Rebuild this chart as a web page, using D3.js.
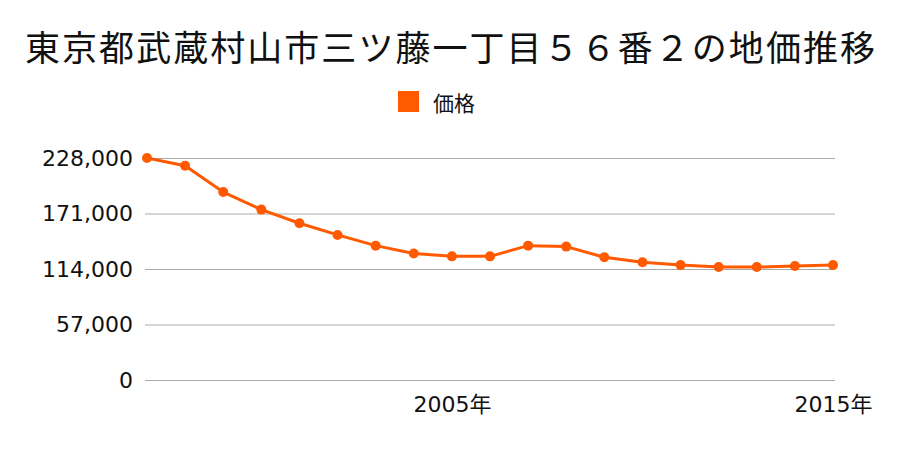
<!DOCTYPE html>
<html><head><meta charset="utf-8">
<script src="https://cdn.jsdelivr.net/npm/d3@7"></script>
<style>body{margin:0;background:#fff}svg{display:block}text{font-family:"DejaVu Sans","Noto Sans CJK JP",sans-serif}</style>
</head><body>
<svg id="c" width="900" height="450"></svg>
<script>
const title = "東京都武蔵村山市三ツ藤一丁目５６番２の地価推移";
const seriesName = "価格";
const years = [1997,1998,1999,2000,2001,2002,2003,2004,2005,2006,2007,2008,2009,2010,2011,2012,2013,2014,2015];
const prices = [228000,220000,193000,175000,161000,149000,138000,130000,127000,127000,138000,137000,126000,121000,118000,116000,116000,117000,118000];
const yTicks = [0,57000,114000,171000,228000];
const xTicks = [2005,2015];
const color = "#ff5a00";

const svg = d3.select("#c");
const x = d3.scaleLinear().domain([1997,2015]).range([147,833]);
const y = d3.scaleLinear().domain([0,228000]).range([380,158]);

svg.append("text").attr("x",450).attr("y",45).attr("text-anchor","middle")
  .attr("dominant-baseline","central").attr("font-size",35)
  .style("font-family",'"Noto Sans CJK JP",sans-serif')
  .attr("textLength",850).attr("lengthAdjust","spacing")
  .attr("fill","#111").text(title);

svg.append("rect").attr("x",398).attr("y",91).attr("width",21).attr("height",21).attr("fill",color);
svg.append("text").attr("x",433).attr("y",102).attr("dominant-baseline","central")
  .style("font-family",'"Noto Sans CJK JP",sans-serif')
  .attr("font-size",21).attr("fill","#111").text(seriesName);

const yAxis = d3.axisLeft(y).tickValues(yTicks).tickSize(-690).tickPadding(12)
  .tickFormat(d3.format(","));
const gy = svg.append("g").attr("transform","translate(145,0)").call(yAxis);
gy.select(".domain").remove();
gy.selectAll(".tick line").attr("stroke","#aaa").attr("stroke-width",1);
gy.selectAll(".tick text").attr("font-size",22).attr("fill","#111").attr("x",-12)
  .style("font-family",'"DejaVu Sans",sans-serif');

const xAxis = d3.axisBottom(x).tickValues(xTicks).tickSize(0).tickPadding(16)
  .tickFormat(d => d + "年");
const gx = svg.append("g").attr("transform","translate(0,380)").call(xAxis);
gx.select(".domain").remove();
gx.selectAll(".tick text").attr("font-size",22).attr("fill","#111")
  .style("font-family",'"DejaVu Sans","Noto Sans CJK JP",sans-serif');

const data = years.map((yr,i)=>({yr, v: prices[i]}));
svg.append("path").datum(data).attr("fill","none").attr("stroke",color).attr("stroke-width",3)
  .attr("stroke-linejoin","round")
  .attr("d", d3.line().x(d=>x(d.yr)).y(d=>y(d.v)));
svg.selectAll("circle.pt").data(data).join("circle").attr("class","pt")
  .attr("cx",d=>x(d.yr)).attr("cy",d=>y(d.v)).attr("r",5).attr("fill",color);
</script>
</body></html>
